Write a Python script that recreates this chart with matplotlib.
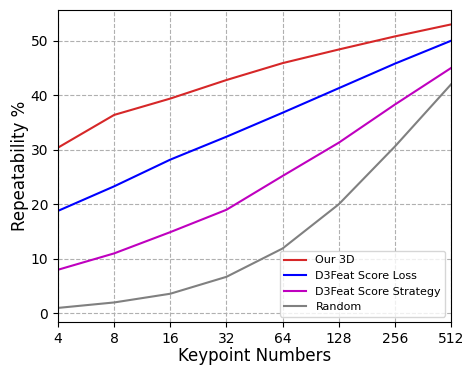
import matplotlib
matplotlib.use("Agg")
import matplotlib.pyplot as plt

x_labels = ["4", "8", "16", "32", "64", "128", "256", "512"]
our_3d = [30.4, 36.4, 39.4, 42.8, 45.9, 48.4, 50.8, 53.0]
score_loss = [18.8, 23.3, 28.2, 32.4, 36.8, 41.3, 45.8, 50.0]
score_strategy = [8.0, 11.0, 14.9, 19.0, 25.2, 31.3, 38.3, 45.0]
random_ = [1.0, 2.0, 3.6, 6.7, 11.9, 20.0, 30.6, 42.0]

fig, ax = plt.subplots(figsize=(4.64, 3.66), dpi=100)
xs = list(range(len(x_labels)))
ax.plot(xs, our_3d, color="tab:red", label="Our 3D")
ax.plot(xs, score_loss, color="blue", label="D3Feat Score Loss")
ax.plot(xs, score_strategy, color="m", label="D3Feat Score Strategy")
ax.plot(xs, random_, color="gray", label="Random")
ax.set_xlim(0, len(x_labels) - 1)
ax.set_xticks(xs)
ax.set_xticklabels(x_labels)
ax.set_yticks([0, 10, 20, 30, 40, 50])
ax.tick_params(labelsize=10)
ax.grid(True, linestyle="--", color="#b0b0b0", linewidth=0.8)
ax.set_xlabel("Keypoint Numbers", fontsize=12, labelpad=1)
ax.set_ylabel("Repeatability %", fontsize=12, labelpad=1.5)
ax.legend(loc="lower right", fontsize=8)
fig.subplots_adjust(left=0.125, right=0.972, top=0.972, bottom=0.12)
fig.savefig("out.png", dpi=100)
